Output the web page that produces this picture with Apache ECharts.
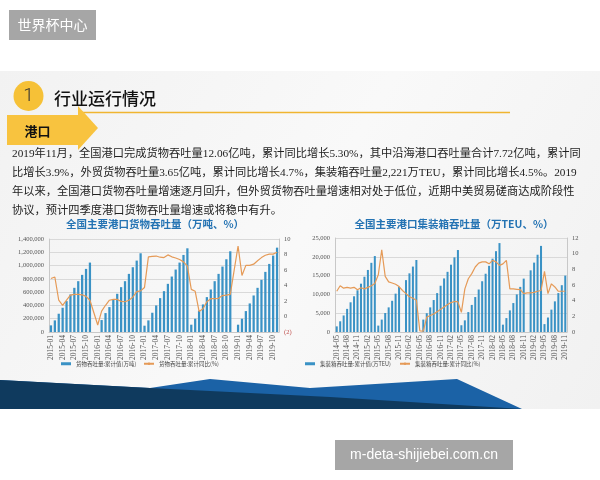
<!DOCTYPE html>
<html>
<head>
<meta charset="utf-8">
<script src="https://cdn.jsdelivr.net/npm/echarts@6/dist/echarts.min.js"></script>
<style>
html,body{margin:0;padding:0;background:#fff;}
#main{width:600px;height:480px;}
</style>
</head>
<body>
<div id="main"></div>
<script>
// 月份标签
function monthList(year, month, n) {
    let out = [];
    for (let i = 0; i < n; i++) {
        let t = month - 1 + i;
        let y = year + Math.floor(t / 12);
        let m = t % 12 + 1;
        out.push(y + '-' + (m < 10 ? '0' : '') + m);
    }
    return out;
}

// 左图：货物吞吐量 2015-01 ~ 2019-11
let cargoMonths = monthList(2015, 1, 59);
let cargoTotal = [
    100000, 175000, 275000, 365000, 465000, 565000, 665000, 765000, 860000, 950000, 1045000,
    null, null,
    180000, 285000, 375000, 485000, 575000, 675000, 765000, 875000, 975000, 1075000, 1185000,
    95000, 175000, 290000, 400000, 510000, 615000, 725000, 835000, 940000, 1045000, 1160000, 1260000,
    110000, 200000, 320000, 415000, 525000, 640000, 765000, 875000, 985000, 1095000, 1215000,
    null,
    110000, 200000, 315000, 430000, 550000, 665000, 785000, 905000, 1025000, 1150000, 1270000
];
let cargoYoY = [
    4.9, 5.1, 2.1, 1.45, 2.1, 2.75, 2.85, 2.85, 2.8, 2.6, 2.1,
    null, -1.1,
    0.7, 1.45, 2.1, 2.2, 2.2, 1.95, 1.9, 2.1, 2.5, 3.2, 3.3,
    3.75, 7.7, 7.75, 7.8, 7.65, 7.6, 7.95, 7.7, 7.55, 7.35, 7.05, 6.5,
    3.5, 3.25, 0.65, 1.0, 1.9, 2.3, 2.3, 2.35, 2.7, 2.75, 2.85,
    null,
    9.1, 5.3, 6.6, 6.6, 6.75, 7.2, 7.6, 7.9, 8.05, 8.05, 8.3
];

// 右图：集装箱吞吐量 2014-05 ~ 2019-11
let boxMonths = monthList(2014, 5, 67);
let boxTotal = [
    1500, 2850, 4400, 6150, 7900, 9500, 11100, 12850, 14700, 16500, 18400, 20200,
    1700, 3300, 5050, 6550, 8300, 10200, 12050, null, 13800, 15600, 17400, 19150,
    null, 3300, 5000, 6550, 8500, 10350, 12300, 14250, 16000, 17900, 19850, 21800,
    1800, 3100, 5300, 7200, 9300, 11300, 13500, 15500, 17600, 19500, 21500, 23650,
    1950, 3700, 5750, 7700, 10000, 12000, 14200, null, 16400, 18450, 20550, 22900,
    2100, 3850, 5950, 8150, 10350, 12450, 15000
];
let boxYoY = [
    5.2, 5.9, 5.6, 5.7, 5.6, 5.7, 5.4, 5.65, 5.5, 5.7, 5.9, 6.2,
    7.3, 10.5, 7.1, 6.4, 6.25, 6.1, 5.8, 5.3, 4.9, 4.5, 4.3, 4.05,
    0.15, 0.1, 1.9, 2.1, 2.3, 2.6, 2.9, 3.2, 3.5, 3.75, 3.9, 3.85,
    2.5, 5.5, 6.8, 7.45, 8.3, 8.8, 8.95, 8.95, 8.7, 9.15, 8.95, 8.5,
    8.7, 9.15, 5.5, 5.5, 5.45, 5.4, 4.9, 5.0, 5.0, 5.05, 5.2, 5.3,
    7.75, 4.9, 6.15, 5.75, 5.2, 5.2, 5.2
];

let cargoBarName = '货物吞吐量:累计值(万吨)';
let cargoLineName = '货物吞吐量:累计同比(%)';
let boxBarName = '集装箱吞吐量:累计值(万TEU)';
let boxLineName = '集装箱吞吐量:累计同比(%)';

let paragraph = [
    '2019年11月，全国港口完成货物吞吐量12.06亿吨，累计同比增长5.30%，其中沿海港口吞吐量合计7.72亿吨，累计同',
    '比增长3.9%，外贸货物吞吐量3.65亿吨，累计同比增长4.7%，集装箱吞吐量2,221万TEU，累计同比增长4.5%。2019',
    '年以来，全国港口货物吞吐量增速逐月回升，但外贸货物吞吐量增速相对处于低位，近期中美贸易磋商达成阶段性',
    '协议，预计四季度港口货物吞吐量增速或将稳中有升。'
];

let barColor = '#3a92c5';
let lineColor = '#e59a57';
let axisGray = '#c8c8c8';
let labelFont = '"Liberation Serif", serif';
let cjkFont = '"Noto Sans CJK SC", sans-serif';

let chart = echarts.init(document.getElementById('main'));

function leftAxis(gridIndex, max, interval, thousands) {
    return {
        type: 'value', gridIndex: gridIndex, min: 0, max: max, interval: interval,
        axisLine: {show: true, lineStyle: {color: axisGray}},
        axisTick: {show: false},
        splitLine: {show: true, lineStyle: {color: '#d9d9d9', width: 1}},
        axisLabel: {
            fontSize: 6.5, color: '#555', fontFamily: labelFont, margin: 5,
            formatter: function (v) { return thousands ? v.toLocaleString('en-US') : v; }
        }
    };
}
function rightAxis(gridIndex, min, max) {
    return {
        type: 'value', gridIndex: gridIndex, position: 'right', min: min, max: max, interval: 2,
        axisLine: {show: true, lineStyle: {color: axisGray}},
        axisTick: {show: false},
        splitLine: {show: false},
        axisLabel: {
            fontSize: 6.5, color: '#555', fontFamily: labelFont, margin: 5,
            formatter: function (v) { return v < 0 ? '{n|(' + (-v) + ')}' : v; },
            rich: {n: {color: '#c0504d', fontSize: 6.5, fontFamily: labelFont}}
        }
    };
}
function catAxis(gridIndex, data) {
    return {
        type: 'category', gridIndex: gridIndex, data: data,
        axisLine: {show: true, lineStyle: {color: axisGray}},
        axisTick: {show: false},
        axisLabel: {rotate: 90, interval: 2, fontSize: 7.5, color: '#555', fontFamily: labelFont, margin: 3}
    };
}
function legendAt(name, x, isBar) {
    return {
        data: [isBar ? {name: name, icon: 'rect'} : {name: name}],
        left: x, top: 361, padding: 0, itemWidth: 10, itemHeight: 3,
        textStyle: {fontSize: 5.5, color: '#444', fontFamily: cjkFont}
    };
}

let slideText = paragraph.map(function (line, i) {
    return {
        type: 'text', x: 12, y: 154 + i * 19,
        style: {text: line, fill: '#222', font: '11.25px "Liberation Serif", "Noto Sans CJK SC"', textVerticalAlign: 'middle'}
    };
});

let option = {
    backgroundColor: '#fff',
    animation: false,
    graphic: {
        elements: [
            // 顶部水印
            {type: 'rect', shape: {x: 9, y: 10, width: 87, height: 30}, style: {fill: '#a6a6a6'}},
            {type: 'text', x: 52.5, y: 25, style: {text: '世界杯中心', fill: '#fff', font: '14px "Noto Sans CJK SC"', textAlign: 'center', textVerticalAlign: 'middle'}},
            // 幻灯片背景
            {type: 'rect', z: -5, shape: {x: 0, y: 71, width: 600, height: 338},
                style: {fill: new echarts.graphic.LinearGradient(0, 0, 1, 1, [{offset: 0, color: '#f2f2f2'}, {offset: 0.5, color: '#f9f9f9'}, {offset: 1, color: '#f1f1f1'}])}},
            {type: 'polygon', z: -4, shape: {points: [[0, 380], [150, 388], [210, 379], [310, 388], [457, 379], [522, 409], [0, 409]]}, style: {fill: '#1b62a6'}},
            {type: 'polygon', z: -3, shape: {points: [[0, 380], [150, 388], [330, 397], [522, 409], [0, 409]]}, style: {fill: '#0f3a5e'}},
            // 标题
            {type: 'circle', shape: {cx: 28.5, cy: 96, r: 15}, style: {fill: '#f6c137'}},
            {type: 'text', x: 28.5, y: 96, style: {text: '1', fill: '#333', font: '300 19px Roboto, "Liberation Sans"', textAlign: 'center', textVerticalAlign: 'middle'}},
            {type: 'text', x: 54, y: 98.5, style: {text: '行业运行情况', fill: '#111', font: '500 17px "Noto Sans CJK SC"', textVerticalAlign: 'middle'}},
            {type: 'line', shape: {x1: 82, y1: 112.5, x2: 510, y2: 112.5}, style: {stroke: '#f0b530', lineWidth: 1.5}},
            {type: 'rect', shape: {x: 7, y: 115, width: 72, height: 30}, style: {fill: '#f8c33f'}},
            {type: 'polygon', shape: {points: [[78, 106], [98, 128], [78, 150]]}, style: {fill: '#f8c33f'}},
            {type: 'text', x: 37.5, y: 131, style: {text: '港口', fill: '#111', font: 'bold 13px "Noto Sans CJK SC"', textAlign: 'center', textVerticalAlign: 'middle'}},
            // 图表标题
            {type: 'text', x: 155, y: 224, style: {text: '全国主要港口货物吞吐量（万吨、%）', fill: '#2473b3', font: 'bold 10.5px "Noto Sans CJK SC"', textAlign: 'center', textVerticalAlign: 'middle'}},
            {type: 'text', x: 454, y: 224, style: {text: '全国主要港口集装箱吞吐量（万TEU、%）', fill: '#2473b3', font: 'bold 10.5px "Noto Sans CJK SC"', textAlign: 'center', textVerticalAlign: 'middle'}},
            // 底部水印
            {type: 'rect', shape: {x: 335, y: 440, width: 178, height: 30}, style: {fill: '#a6a6a6'}},
            {type: 'text', x: 424, y: 455, style: {text: 'm-deta-shijiebei.com.cn', fill: '#fff', font: '14px "Liberation Sans", sans-serif', textAlign: 'center', textVerticalAlign: 'middle'}}
        ].concat(slideText)
    },
    legend: [
        legendAt(cargoBarName, 61, true),
        legendAt(cargoLineName, 143, false),
        legendAt(boxBarName, 305, true),
        legendAt(boxLineName, 399, false)
    ],
    grid: [
        {left: 49, top: 239, width: 230, height: 93},
        {left: 335, top: 238, width: 232, height: 94}
    ],
    xAxis: [catAxis(0, cargoMonths), catAxis(1, boxMonths)],
    yAxis: [
        leftAxis(0, 1400000, 200000, true),
        rightAxis(0, -2, 10),
        leftAxis(1, 25000, 5000, true),
        rightAxis(1, 0, 12)
    ],
    series: [
        {name: cargoBarName, type: 'bar', xAxisIndex: 0, yAxisIndex: 0, data: cargoTotal, barWidth: '58%', itemStyle: {color: barColor}},
        {name: cargoLineName, type: 'line', xAxisIndex: 0, yAxisIndex: 1, data: cargoYoY, symbol: 'none', connectNulls: true,
            lineStyle: {color: lineColor, width: 1.2}, itemStyle: {color: lineColor}},
        {name: boxBarName, type: 'bar', xAxisIndex: 1, yAxisIndex: 2, data: boxTotal, barWidth: '58%', itemStyle: {color: barColor}},
        {name: boxLineName, type: 'line', xAxisIndex: 1, yAxisIndex: 3, data: boxYoY, symbol: 'none', connectNulls: true,
            lineStyle: {color: lineColor, width: 1.2}, itemStyle: {color: lineColor}}
    ]
};
chart.setOption(option);
</script>
</body>
</html>
